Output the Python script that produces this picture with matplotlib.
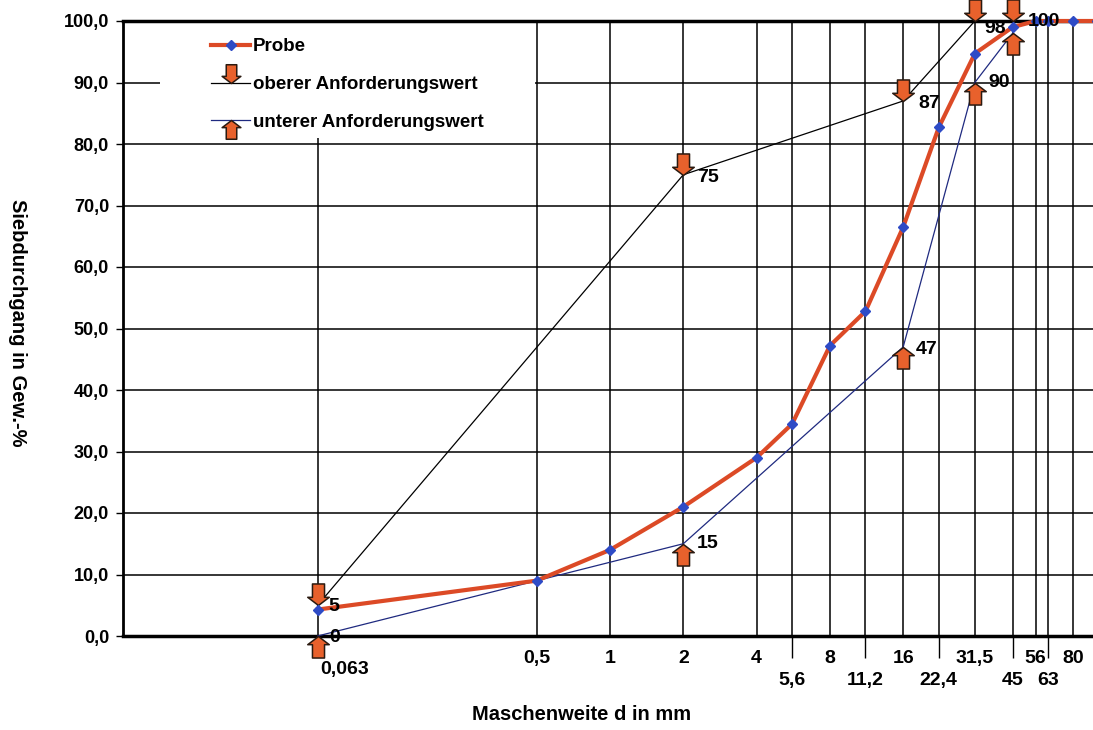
import matplotlib.pyplot as plt
from matplotlib.path import Path
from matplotlib.patches import Rectangle
from matplotlib.lines import Line2D

plt.rcParams['font.family'] = ['Liberation Sans', 'DejaVu Sans']
plt.rcParams['font.weight'] = 'bold'

# Sieblinie: Maschenweite d in mm / Siebdurchgang in Gew.-%
sieb_probe = [0.063, 0.5, 1, 2, 4, 5.6, 8, 11.2, 16, 22.4, 31.5, 45, 56, 63, 80, 100]
probe = [4.3, 9.0, 14.0, 21.0, 29.0, 34.5, 47.2, 52.8, 66.5, 82.7, 94.7, 99.0, 100, 100, 100, 100]

sieb_grenz = [0.063, 2, 16, 31.5, 45]
oberer = [5, 75, 87, 100, 100]
unterer = [0, 15, 47, 90, 98]

ticks_oben = [0.063, 0.5, 1, 2, 4, 8, 16, 31.5, 56, 80]
labels_oben = ['', '0,5', '1', '2', '4', '8', '16', '31,5', '56', '80']
ticks_unten = [5.6, 11.2, 22.4, 45, 63]
labels_unten = ['5,6', '11,2', '22,4', '45', '63']
y_ticks = [0, 10, 20, 30, 40, 50, 60, 70, 80, 90, 100]

# offsets (points) for the value labels, None = no label
off_oben = [(8, -1), (10, -2), (11, -2), None, (11, 0)]
off_unten = [(8, -1), (10, 0), (9, -1.5), (10, 0), (-5, 3.5)]

# arrow markers: tip sits on the data point
pfeil = [(0, 0), (0.5, 0.38), (0.28, 0.38), (0.28, 1), (-0.28, 1), (-0.28, 0.38), (-0.5, 0.38), (0, 0)]
pfeil_ab = Path(pfeil, closed=True)
pfeil_auf = Path([(x, -y) for x, y in pfeil], closed=True)

orange = '#E8612C'
pfeil_rand = '#2b1a10'
rot = '#DC4A26'
blau = '#2E4BC6'
navy = '#1F2A80'

fig = plt.figure(figsize=(10.93, 7.30), dpi=100)
ax = fig.add_axes([123 / 1093, 94 / 730, 974 / 1093, 615 / 730])
ax.set_xscale('log')
ax.set_xlim(0.01, 100)
ax.set_ylim(0, 100)

ax.plot(sieb_grenz, oberer, color='black', lw=0.9, marker=pfeil_ab, ms=31,
        mfc=orange, mec=pfeil_rand, mew=1.1, clip_on=False, zorder=3)
ax.plot(sieb_grenz, unterer, color=navy, lw=0.9, marker=pfeil_auf, ms=31,
        mfc=orange, mec=pfeil_rand, mew=1.1, clip_on=False, zorder=3)
ax.plot(sieb_probe, probe, color=rot, lw=3, marker='D', ms=5.5,
        mfc=blau, mec=blau, clip_on=False, zorder=4)

for x, y, off in zip(sieb_grenz, oberer, off_oben):
    if off is None:
        continue
    ax.annotate(str(y), (x, y), xytext=off, textcoords='offset points',
                ha='left' if off[0] > 0 else 'right', va='center', fontsize=14,
                fontweight='bold', zorder=5, annotation_clip=False)
for x, y, off in zip(sieb_grenz, unterer, off_unten):
    ax.annotate(str(y), (x, y), xytext=off, textcoords='offset points',
                ha='left' if off[0] > 0 else 'right', va='center', fontsize=14,
                fontweight='bold', zorder=5, annotation_clip=False)

# axes / grid
ax.set_yticks(y_ticks, [f'{v:.1f}'.replace('.', ',') for v in y_ticks])
ax.set_xticks(ticks_oben, labels_oben)
ax.set_xticks(ticks_unten, labels_unten, minor=True)
ax.tick_params(axis='y', direction='out', length=5, width=1, pad=5, labelsize=13)
ax.tick_params(axis='x', which='major', length=0, pad=10, labelsize=14)
ax.tick_params(axis='x', which='minor', direction='out', length=16, width=1, pad=10, labelsize=14)
ax.annotate('0,063', (0.063, 0), xycoords=('data', 'axes fraction'), xytext=(2, -24),
            textcoords='offset points', ha='left', va='center', fontsize=14, fontweight='bold')

ax.set_axisbelow(True)
ax.grid(True, which='both', color='black', lw=1.1)
for side, lw in [('top', 2.5), ('bottom', 2.5), ('left', 2.0), ('right', 2.0)]:
    ax.spines[side].set_linewidth(lw)

# white area behind the legend
ax.add_patch(Rectangle((0.038, 81), 0.385, 19, transform=ax.get_yaxis_transform(),
                       facecolor='white', edgecolor='none', zorder=1))

ax.set_xlabel('Maschenweite d in mm', fontsize=14.5, fontweight='bold', va='center')
ax.xaxis.set_label_coords(0.471, -0.128)
ax.set_ylabel('Siebdurchgang in Gew.-%', fontsize=14.5, fontweight='bold', rotation=270, va='center')
ax.yaxis.set_label_coords(-0.108, 0.51)

handles = [
    Line2D([], [], color=rot, lw=3, marker='D', ms=5.5, mfc=blau, mec=blau),
    Line2D([], [], color='black', lw=0.9, marker=pfeil_ab, ms=27, mfc=orange, mec=pfeil_rand, mew=1.1),
    Line2D([], [], color=navy, lw=0.9, marker=pfeil_auf, ms=27, mfc=orange, mec=pfeil_rand, mew=1.1),
]
ax.legend(handles, ['Probe', 'oberer Anforderungswert', 'unterer Anforderungswert'],
          loc='upper left', bbox_to_anchor=(0.0903, 0.972), frameon=False, borderpad=0,
          borderaxespad=0, handlelength=2.1, handletextpad=0.12, labelspacing=1.1,
          prop={'size': 13.5, 'weight': 'bold'})

fig.savefig('out.png', dpi=100)
